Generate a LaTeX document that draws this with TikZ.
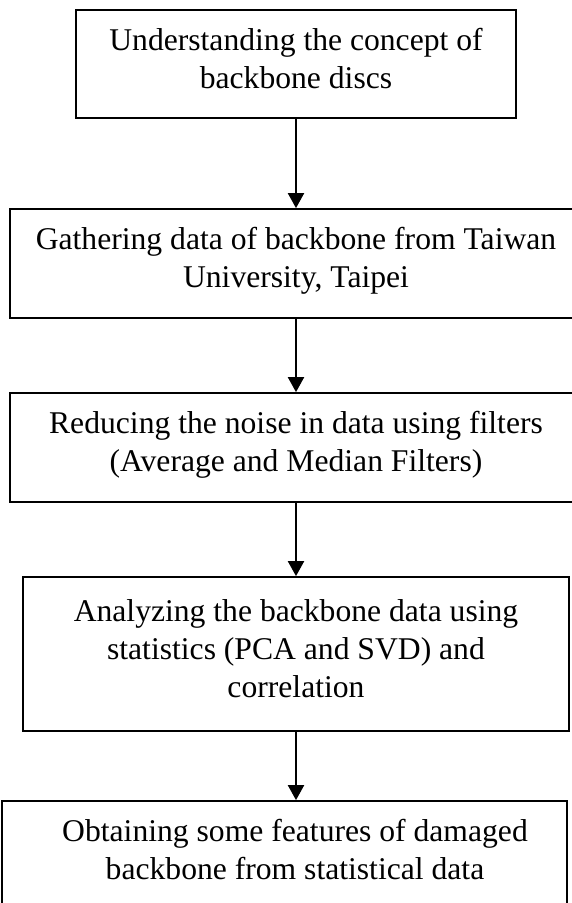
\documentclass[tikz,border=0pt]{standalone}
\usepackage{fontspec}
\setmainfont{Liberation Serif}
\usepackage{tikz}
\usetikzlibrary{arrows.meta}

\begin{document}
\begin{tikzpicture}[
  x=1cm, y=1cm,
  font=\fontsize{18pt}{21.6pt}\selectfont,
  stepbox/.style={draw, line width=1pt, inner sep=0pt, align=center, minimum height=2.18cm,
    execute at begin node=\strut, execute at end node=\strut},
  arrow/.style={-{Triangle[width=0.32cm, length=0.3cm]}, line width=1.2pt}
]
\useasboundingbox (0,0) rectangle (11.44,-18.06);

% step 1
\node[stepbox, minimum width=8.8cm, minimum height=2.16cm] (s1) at (5.92, -1.28) {Understanding the concept of\\backbone discs};
% step 2
\node[stepbox, minimum width=11.44cm] (s2) at (5.92, -5.27) {Gathering data of backbone from Taiwan\\University, Taipei};
% step 3
\node[stepbox, minimum width=11.44cm] (s3) at (5.92, -8.95) {Reducing the noise in data using filters\\(Average and Median Filters)};
% step 4
\node[stepbox, minimum width=10.92cm, minimum height=3.08cm] (s4) at (5.92, -13.08) {Analyzing the backbone data using\\statistics (PCA and SVD) and\\correlation};
% step 5
\node[stepbox, minimum width=11.3cm] (s5) at (5.69, -17.11) {\hspace*{0.42cm}Obtaining some features of damaged\\\hspace*{0.42cm}backbone from statistical data};

\draw[arrow] (s1) -- (s2);
\draw[arrow] (s2) -- (s3);
\draw[arrow] (s3) -- (s4);
\draw[arrow] (s4.south) -- (s4.south |- s5.north);
\end{tikzpicture}
\end{document}
